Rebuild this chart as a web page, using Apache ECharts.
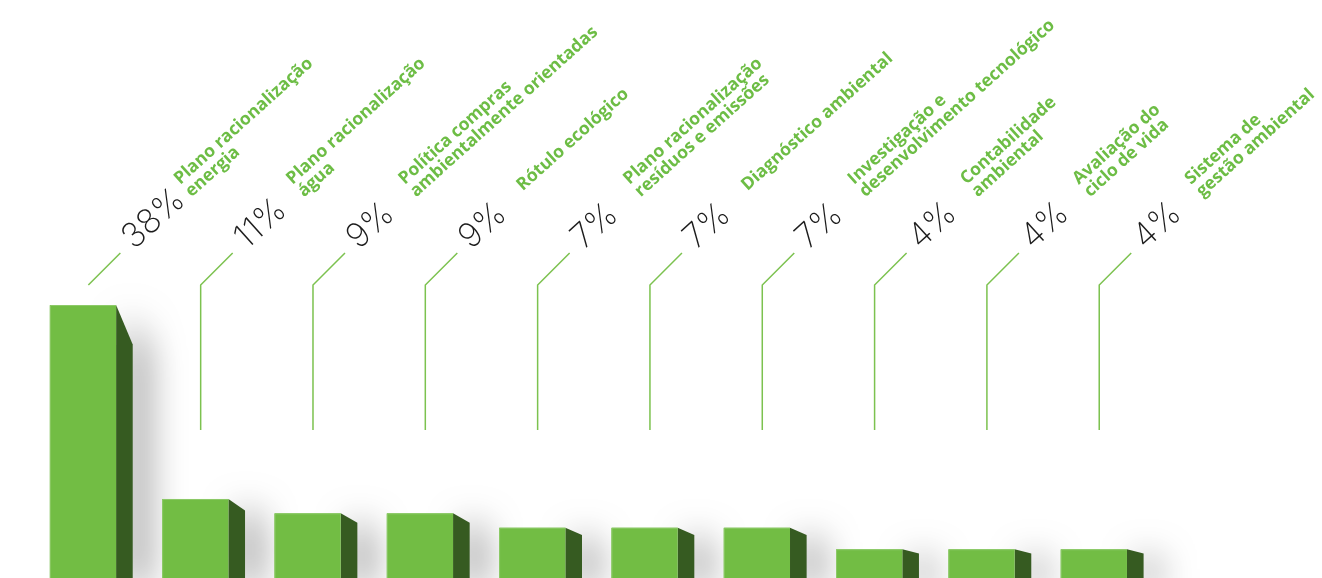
<!DOCTYPE html>
<html>
<head>
<meta charset="utf-8">
<script src="https://cdn.jsdelivr.net/npm/echarts@6/dist/echarts.min.js"></script>
<style>
  html, body { margin: 0; padding: 0; background: #ffffff; }
  #chart { width: 1322px; height: 578px; }
</style>
</head>
<body>
<div id="chart"></div>
<script>
// Environmental management practices, share of companies (%)
const categories = [
  'Plano racionalização\nenergia',
  'Plano racionalização\nágua',
  'Política compras\nambientalmente orientadas',
  'Rótulo ecológico',
  'Plano racionalização\nresíduos e emissões',
  'Diagnóstico ambiental',
  'Investigação e\ndesenvolvimento tecnológico',
  'Contabilidade\nambiental',
  'Avaliação do\nciclo de vida',
  'Sistema de\ngestão ambiental'
];
const values = [38, 11, 9, 9, 7, 7, 7, 4, 4, 4];
const valueLabels = values.map(v => v + '%');

const FRONT = '#72BD44';
const SIDE = '#365B21';
const FRONT_EDGE = '#8DCA68';
const LABEL_GREEN = '#6DBD45';
const LEADER_GREEN = '#7CC24F';

const TEXT_ANGLE = 42 * Math.PI / 180;
// leader lines: vertical stem, then a 45° run up to the label baseline
const STEM_FOOT_Y = 430;
const STEM_KNEE_Y = 285;
const LABEL_BASE_Y = 253;
const LEADER_RUN = 32;

function renderBar(params, api) {
  const i = api.value(0);
  const v = api.value(1);
  const base = api.coord([i, 0]);
  const top = api.coord([i, v]);
  const band = api.size([1, 0])[0];
  const w = band * 0.59;
  const depth = band * 0.148;
  const left = base[0] - w / 2;
  const right = left + w;
  const h = base[1] - top[1];
  const slant = h * 0.145;
  const stemX = left + band * 0.343;

  const children = [];

  // side face, casting the soft shadow behind the bar
  children.push({
    type: 'polygon',
    shape: { points: [[right, top[1]], [right + depth, top[1] + slant], [right + depth, base[1]], [right, base[1]]] },
    style: {
      fill: SIDE,
      shadowColor: 'rgba(0,0,0,0.55)',
      shadowBlur: 36,
      shadowOffsetX: 13,
      shadowOffsetY: 8
    }
  });
  // front face
  children.push({
    type: 'rect',
    shape: { x: left, y: top[1], width: w, height: h },
    style: { fill: FRONT }
  });
  children.push({
    type: 'polyline',
    shape: { points: [[left + 0.5, base[1]], [left + 0.5, top[1] + 0.5], [right, top[1] + 0.5]] },
    style: { stroke: FRONT_EDGE, lineWidth: 1, fill: null }
  });

  // leader line
  const pts = [];
  if (top[1] > STEM_FOOT_Y) pts.push([stemX, STEM_FOOT_Y]);
  pts.push([stemX, STEM_KNEE_Y]);
  pts.push([stemX + LEADER_RUN, LABEL_BASE_Y]);
  children.push({
    type: 'polyline',
    shape: { points: pts },
    style: { stroke: LEADER_GREEN, lineWidth: 1.5, fill: null }
  });

  // rotated value and category labels
  children.push({
    type: 'group',
    x: stemX + LEADER_RUN,
    y: LABEL_BASE_Y,
    rotation: TEXT_ANGLE,
    children: [
      {
        type: 'text',
        x: 12, y: 14,
        style: {
          text: valueLabels[i],
          fill: '#1c1c1c',
          fontFamily: 'Inter',
          fontWeight: 200,
          fontSize: 34,
          align: 'left',
          verticalAlign: 'bottom'
        }
      },
      {
        type: 'text',
        x: 90, y: -7,
        style: {
          text: categories[i],
          fill: LABEL_GREEN,
          fontFamily: 'Open Sans',
          fontWeight: 700,
          fontSize: 17.5,
          lineHeight: 17,
          align: 'left',
          verticalAlign: 'middle'
        }
      }
    ]
  });

  return { type: 'group', children: children };
}

const chart = echarts.init(document.getElementById('chart'), null, { renderer: 'canvas' });
chart.setOption({
  animation: false,
  backgroundColor: '#ffffff',
  grid: { left: 26.8, right: 172, top: 305, bottom: -3 },
  xAxis: { type: 'category', data: categories, show: false, boundaryGap: true },
  yAxis: { type: 'value', min: 0, max: 38, show: false, splitLine: { show: false } },
  series: [{
    type: 'custom',
    renderItem: renderBar,
    clip: false,
    encode: { x: 0, y: 1 },
    data: values.map((v, i) => [i, v])
  }]
});
</script>
</body>
</html>
